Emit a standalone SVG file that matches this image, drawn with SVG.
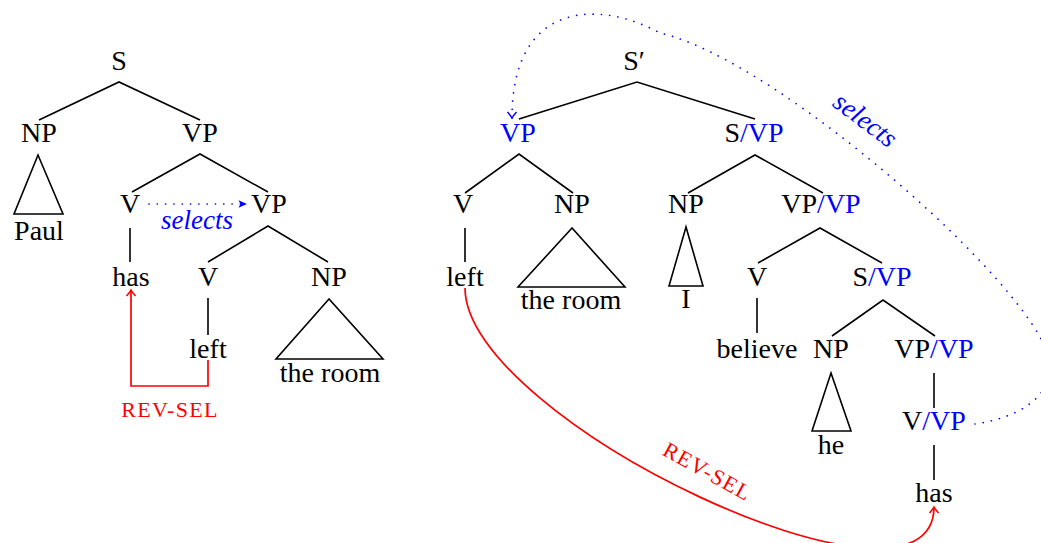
<svg xmlns="http://www.w3.org/2000/svg" width="1041" height="543" viewBox="0 0 1041 543" font-family="'Liberation Serif', 'DejaVu Serif', serif">
<style>
text{font-family:'Liberation Serif','DejaVu Serif',serif;font-size:28px;fill:#000;text-anchor:middle}
.b{fill:#0000ff}
.sel{font-style:italic;fill:#0000ff;font-size:27px}
.rev{fill:#ff0000;font-size:22px;letter-spacing:1.3px}
.e{stroke:#000;stroke-width:1.6;fill:none}
.dot{stroke:#0000ff;stroke-width:1.7;fill:none;stroke-dasharray:0.01 8.3;stroke-linecap:round}
.red{stroke:#ff0000;stroke-width:1.7;fill:none}
</style>
<defs>
<marker id="stealth" viewBox="-9 -5 10 10" refX="0" refY="0" markerWidth="10" markerHeight="10" orient="auto" markerUnits="userSpaceOnUse">
<path d="M-8.5,-3.8 L0,0 L-8.5,3.8 L-6.5,0 Z" fill="#0000ff"/>
</marker>
<marker id="toBlue" viewBox="-8 -6 10 12" refX="0" refY="0" markerWidth="10" markerHeight="12" orient="auto" markerUnits="userSpaceOnUse">
<path d="M-6,-4.5 Q-2,-1 0,0 Q-2,1 -6,4.5" fill="none" stroke="#0000ff" stroke-width="1.4"/>
</marker>
<marker id="toRed" viewBox="-8 -6 10 12" refX="0" refY="0" markerWidth="10" markerHeight="12" orient="auto" markerUnits="userSpaceOnUse">
<path d="M-6,-4.5 Q-2,-1 0,0 Q-2,1 -6,4.5" fill="none" stroke="#ff0000" stroke-width="1.6"/>
</marker>
</defs>

<g id="edges">
<path class="e" d="M39,120 L119,82 L200,120"/>
<path class="e" d="M132,192 L200,154 L268,192"/>
<path class="e" d="M130,228 V262"/>
<path class="e" d="M208,262 L268,226 L328,262"/>
<path class="e" d="M208,298 V335"/>
<path class="e" d="M38,155 L14,214 H63 Z"/>
<path class="e" d="M329,299 L276,359 H383 Z"/>
<path class="e" d="M519,119 L637,82 L755,119"/>
<path class="e" d="M465,193 L519,154 L573,193"/>
<path class="e" d="M688,193 L755,155 L823,193"/>
<path class="e" d="M465,228 V262"/>
<path class="e" d="M758,263 L820,228 L882,263"/>
<path class="e" d="M757,298 V333"/>
<path class="e" d="M832,336 L883,300 L935,336"/>
<path class="e" d="M934,373 V408"/>
<path class="e" d="M934,445 V480"/>
<path class="e" d="M572,228 L518,287 H625 Z"/>
<path class="e" d="M686,227 L669,286 H703 Z"/>
<path class="e" d="M831,373 L812,431 H851 Z"/>
</g>

<g id="connectors">
<path class="dot" d="M149,204 H247" marker-end="url(#stealth)"/>
<path class="red" d="M208,360 V386 H131 V290" marker-end="url(#toRed)"/>
<path class="dot" d="M975,424 C1015,418 1050,400 1050,366 C1050,300 780,60 660,33 C600,0 512,0 512,118" marker-end="url(#toBlue)"/>
<path class="red" d="M465,288 C465,420 934,640 934,507" marker-end="url(#toRed)"/>
</g>

<g id="labels">
<text class="sel" x="197" y="229">selects</text>
<text class="rev" x="170" y="417">REV-SEL</text>
<text class="sel" x="860" y="127" transform="rotate(37 860 127)">selects</text>
<text class="rev" x="704" y="478" transform="rotate(29 704 478)">REV-SEL</text>
</g>

<g id="n-S"><text x="119" y="70">S</text></g>
<g id="n-NP1"><text x="39" y="142">NP</text></g>
<g id="n-VP1"><text x="200" y="142">VP</text></g>
<g id="n-Paul"><text x="39" y="240">Paul</text></g>
<g id="n-V1"><text x="130" y="213">V</text></g>
<g id="n-VP2"><text x="269" y="213">VP</text></g>
<g id="n-has1"><text x="131" y="286">has</text></g>
<g id="n-V2"><text x="208" y="286">V</text></g>
<g id="n-NP2"><text x="329" y="286">NP</text></g>
<g id="n-left1"><text x="208" y="358">left</text></g>
<g id="n-room1"><text x="330" y="382">the room</text></g>

<g id="n-Sp"><text x="634" y="70">S′</text></g>
<g id="n-VPtop"><text class="b" x="518" y="142">VP</text></g>
<g id="n-SVP1"><text x="754" y="142">S<tspan class="b">/VP</tspan></text></g>
<g id="n-V3"><text x="463" y="213">V</text></g>
<g id="n-NP3"><text x="572" y="213">NP</text></g>
<g id="n-NP4"><text x="686" y="213">NP</text></g>
<g id="n-VPVP1"><text x="821" y="213">VP<tspan class="b">/VP</tspan></text></g>
<g id="n-left2"><text x="465" y="286">left</text></g>
<g id="n-room2"><text x="571" y="309">the room</text></g>
<g id="n-I"><text x="686" y="308">I</text></g>
<g id="n-V4"><text x="757" y="286">V</text></g>
<g id="n-SVP2"><text x="882" y="286">S<tspan class="b">/VP</tspan></text></g>
<g id="n-believe"><text x="757" y="358">believe</text></g>
<g id="n-NP5"><text x="831" y="358">NP</text></g>
<g id="n-VPVP2"><text x="934" y="358">VP<tspan class="b">/VP</tspan></text></g>
<g id="n-he"><text x="831" y="454">he</text></g>
<g id="n-VVP"><text x="934" y="430">V<tspan class="b">/VP</tspan></text></g>
<g id="n-has2"><text x="934" y="502">has</text></g>
</svg>
